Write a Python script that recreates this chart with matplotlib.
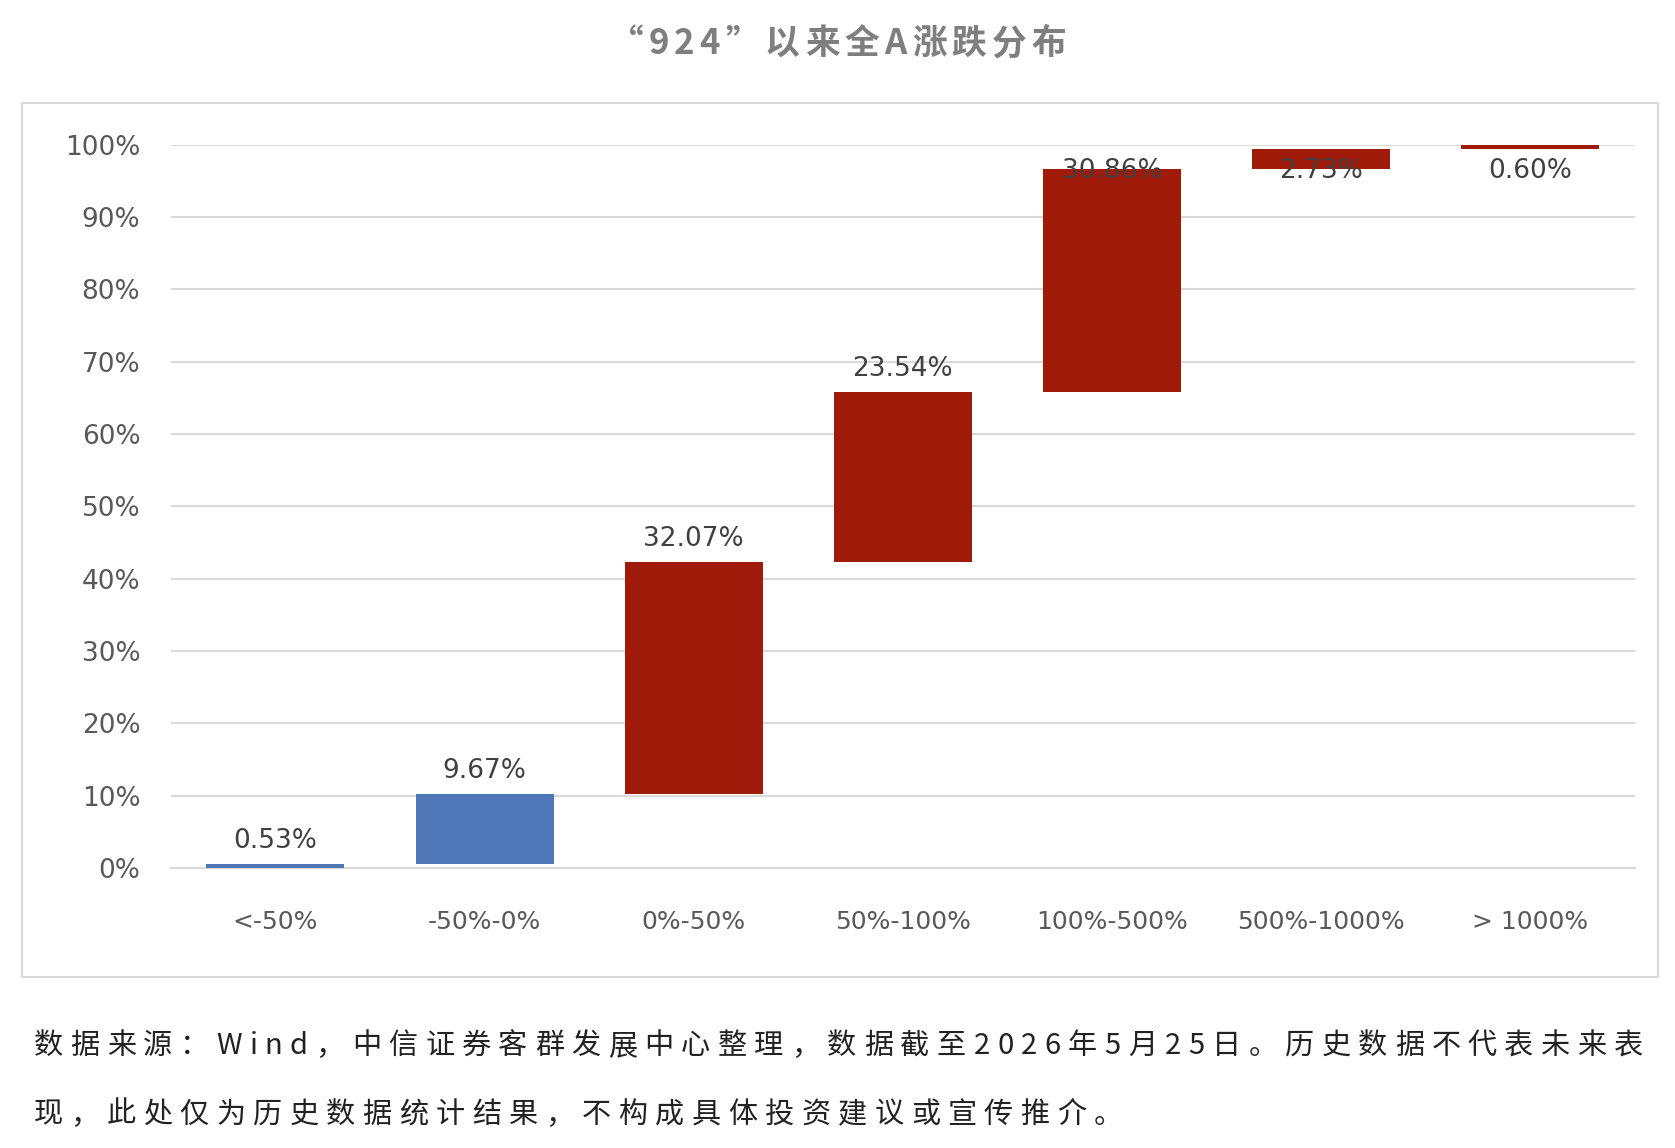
import matplotlib
matplotlib.use("Agg")
import matplotlib.pyplot as plt
from matplotlib.patches import Rectangle

plt.rcParams['font.family'] = ['Noto Sans CJK SC', 'DejaVu Sans']

categories = ["<-50%", "-50%-0%", "0%-50%", "50%-100%", "100%-500%", "500%-1000%", "> 1000%"]
values = [0.53, 9.67, 32.07, 23.54, 30.86, 2.73, 0.60]
labels = ["0.53%", "9.67%", "32.07%", "23.54%", "30.86%", "2.73%", "0.60%"]
colors = ["#5078B8", "#5078B8", "#A01A0A", "#A01A0A", "#A01A0A", "#A01A0A", "#A01A0A"]
yticks = [0, 10, 20, 30, 40, 50, 60, 70, 80, 90, 100]
title = "“924”以来全A涨跌分布"
foot1 = "数据来源：Wind，中信证券客群发展中心整理，数据截至2026年5月25日。历史数据不代表未来表"
foot2 = "现，此处仅为历史数据统计结果，不构成具体投资建议或宣传推介。"

fig = plt.figure(figsize=(16.75, 11.48), dpi=100)
fig.patches.append(Rectangle((0.013, 0.149), 0.977, 0.761, transform=fig.transFigure,
                             fill=False, edgecolor="#d9d9d9", lw=1.5))
ax = fig.add_axes([0.102, 0.244, 0.874, 0.630])
bottoms = []
acc = 0
for v in values:
    bottoms.append(acc)
    acc += v
x = range(len(categories))
ax.bar(x, values, bottom=bottoms, width=0.66, color=colors, zorder=3, clip_on=False)
for i, (b, v, l) in enumerate(zip(bottoms, values, labels)):
    y = min(b + v + 3.2, 96.3)
    ax.text(i, y, l, ha="center", va="center", fontsize=19, color="#404040",
            family=["DejaVu Sans"], zorder=4)
ax.set_ylim(0, 100)
ax.set_xlim(-0.5, len(categories) - 0.5)
ax.set_yticks(yticks)
ax.set_yticklabels([f"{t}%" for t in yticks], family=["DejaVu Sans"])
ax.set_xticks(list(x))
ax.set_xticklabels(categories, family=["DejaVu Sans"])
ax.tick_params(axis="y", length=0, labelsize=19, labelcolor="#595959", pad=22)
ax.tick_params(axis="x", length=0, labelsize=18, labelcolor="#595959", pad=30)
ax.grid(axis="y", color="#d9d9d9", lw=1.5, zorder=0)
for s in ["top", "right", "left"]:
    ax.spines[s].set_visible(False)
ax.spines["bottom"].set_color("#d9d9d9")
ax.spines["bottom"].set_linewidth(1.5)

renderer = fig.canvas.get_renderer()
W = fig.bbox.width

def widths(s, **kw):
    out = []
    for ch in s:
        t = fig.text(0, 0, ch, **kw)
        out.append(t.get_window_extent(renderer).width / W if ch.strip() else 0.008)
        t.remove()
    return out

def spaced(s, x0, x1, y, extra=None, **kw):
    ws = widths(s, **kw)
    if extra is None:
        extra = (x1 - x0 - sum(ws)) / (len(s) - 1)
    xx = x0
    for ch, w in zip(s, ws):
        fig.text(xx, y, ch, ha="left", va="center", **kw)
        xx += w + extra
    return extra

tkw = dict(fontsize=25, fontweight="bold", color="#7f7f7f")
tws = widths(title, **tkw)
tw = 0.273
spaced(title, 0.5 - tw / 2, 0.5 + tw / 2, 0.962, **tkw)
fkw = dict(fontsize=21, color="#222222")
ex = spaced(foot1, 0.02, 0.981, 0.089, **fkw)
spaced(foot2, 0.02, None, 0.029, extra=ex, **fkw)
fig.savefig("out.png", dpi=100, facecolor="white")
